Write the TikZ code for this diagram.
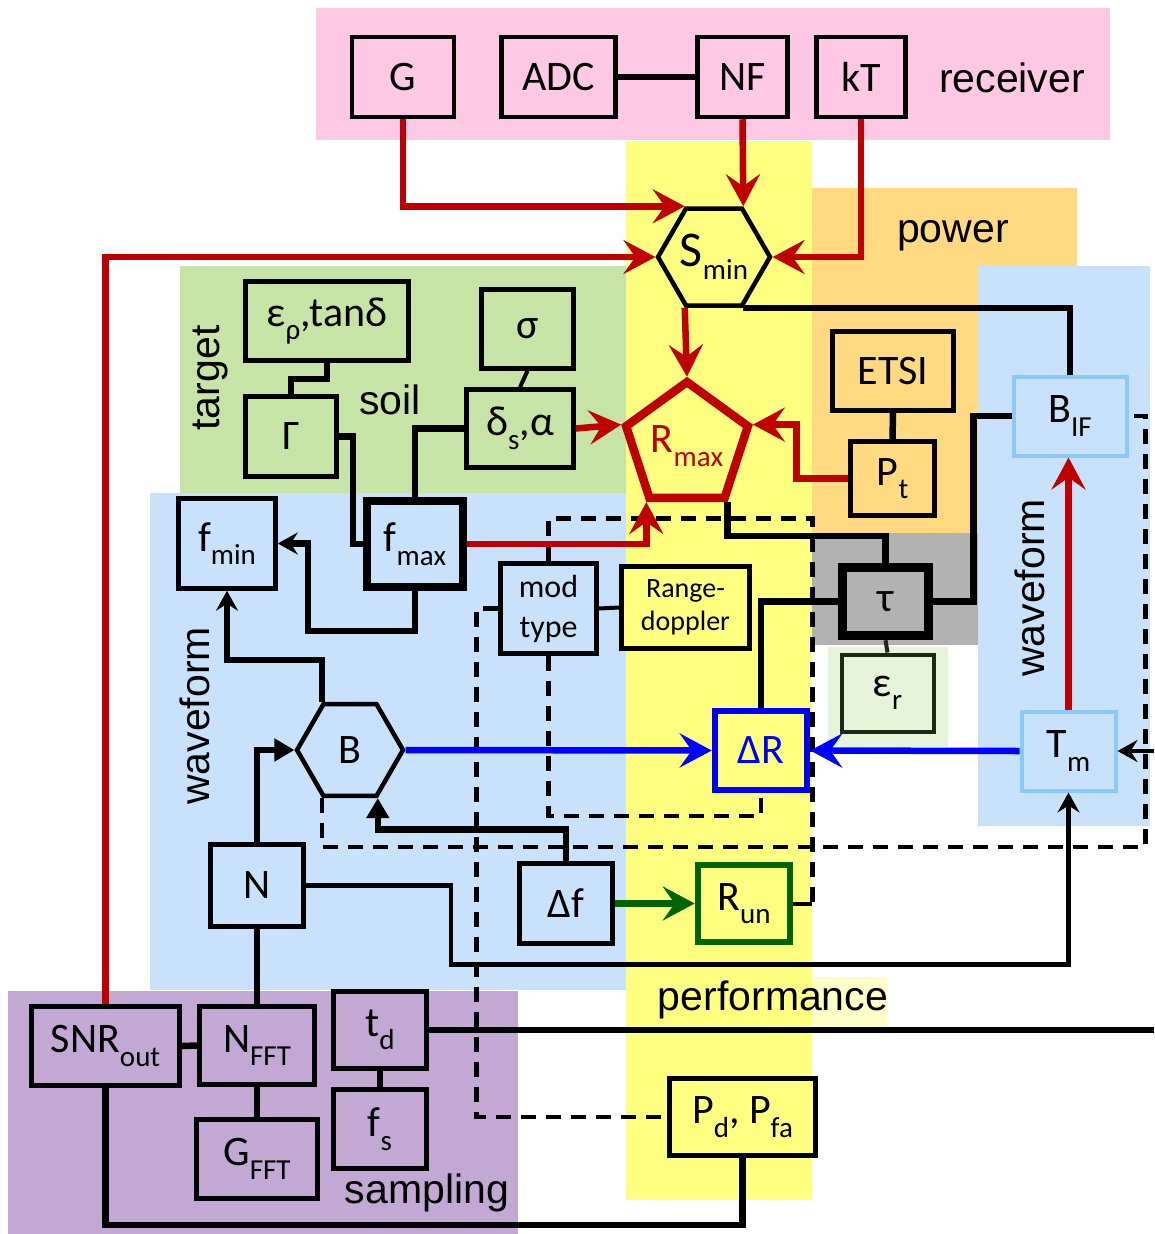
\documentclass[tikz,border=0pt]{standalone}
\usepackage{fontspec}
\setmainfont{Carlito}
\newfontfamily\labfam{Liberation Sans}
\usetikzlibrary{shapes.geometric,arrows.meta}
\definecolor{cpink}{RGB}{255,200,228}
\definecolor{cyel}{RGB}{255,255,128}
\definecolor{cora}{RGB}{255,218,128}
\definecolor{cgrn}{RGB}{198,228,166}
\definecolor{cblu}{RGB}{200,226,252}
\definecolor{cpur}{RGB}{196,168,212}
\definecolor{cgray}{RGB}{178,178,178}
\definecolor{cltg}{RGB}{230,244,218}
\definecolor{cpale}{RGB}{255,255,200}
\definecolor{cred}{RGB}{192,0,0}
\definecolor{cblue}{RGB}{0,0,255}
\definecolor{cdgrn}{RGB}{0,100,0}
\definecolor{cbord}{RGB}{140,200,250}
\definecolor{cdkg}{RGB}{30,40,20}
\newcommand{\boxfont}{\fontsize{42}{46}\selectfont}
\newcommand{\labtxt}{\labfam\fontsize{41}{45}\selectfont}
\newcommand{\lowtxt}[1]{\raisebox{-0.32em}{\fontsize{29}{32}\selectfont #1}}
\begin{document}
\begin{tikzpicture}[x=1pt,y=-1pt,
  box/.style={draw=black,line width=4.5pt,inner sep=0pt,align=center,font=\boxfont},
  hexa/.style={regular polygon,regular polygon sides=6,draw=black,line width=4.5pt,inner sep=0pt,font=\boxfont},
  conn/.style={draw=black,line width=6.5pt},
  thinconn/.style={draw=black,line width=4pt},
  redarr/.style={draw=cred,line width=6.5pt,-{Stealth[length=32pt,width=34pt,inset=12pt]}},
  bluearr/.style={draw=cblue,line width=6.5pt,-{Stealth[length=32pt,width=34pt,inset=12pt]}},
  grnarr/.style={draw=cdgrn,line width=6.5pt,-{Stealth[length=32pt,width=34pt,inset=12pt]}},
  triarr/.style={draw=black,line width=6.5pt,-{Triangle[length=20pt,width=22pt]}},
  blkarr/.style={draw=black,line width=6.5pt,-{Stealth[length=20pt,width=22pt,inset=7pt]}},
  thinarr/.style={draw=black,line width=4.2pt,-{Stealth[length=20pt,width=22pt,inset=7pt]}},
  dsh/.style={draw=black,line width=4.5pt,dash pattern=on 15pt off 10pt},
  lab/.style={font=\labtxt,inner sep=0pt}
]
\useasboundingbox (0,0) rectangle (1154,1234);
% regions
\fill[cpink] (316,8) rectangle (1110,140);
\fill[cyel] (626,141) rectangle (812,1200);
\fill[cora] (812,188) rectangle (1077,535);
\fill[cgrn] (180,266) rectangle (626,493);
\fill[cblu] (150,493) rectangle (626,990);
\fill[cblu] (978,266) rectangle (1150,826);
\fill[cgray] (812,533) rectangle (978,645);
\fill[cltg] (828,647) rectangle (948,747);
\fill[cpur] (8,991) rectangle (518,1234);
\fill[cpale] (812,977) rectangle (887,1030);
% region labels
\node[lab] (lrec) at (1012,78) {receiver};
\node[lab] (lpow) at (953,236) {power};
\node[lab,rotate=90] (ltar) at (210,378) {target};
\node[lab] (lsoil) at (390,400) {soil};
\node[lab,rotate=90] (lwav1) at (195,716) {waveform};
\node[lab,rotate=90] (lwav2) at (1030,588) {waveform};
\node[lab] (lperf) at (773,1000) {performance};
\node[lab] (lsamp) at (427,1193) {sampling};
% receiver
\node[box,fill=cpink,minimum width=102pt,minimum height=80pt] (g) at (403,77) {G};
\node[box,fill=cpink,minimum width=114pt,minimum height=80pt] (adc) at (558.5,77) {ADC};
\node[box,fill=cpink,minimum width=90pt,minimum height=80pt] (nf) at (742.5,77) {NF};
\node[box,fill=cpink,minimum width=89pt,minimum height=80pt] (kt) at (861,77) {kT};
% performance core
\node[hexa,fill=cyel,minimum size=112pt] (smin) at (714,257) {{\fontsize{50}{52}\selectfont S}\lowtxt{min}};
\node[regular polygon,regular polygon sides=5,draw=cred,fill=cyel,line width=8.5pt,minimum size=128pt,inner sep=0pt,text=cred,font=\boxfont] (rmax) at (687,446) {R\lowtxt{max}};
% power
\node[box,fill=cora,minimum width=121pt,minimum height=79pt] (etsi) at (893,371) {ETSI};
\node[box,fill=cora,minimum width=84pt,minimum height=74pt] (pt) at (892.5,478.5) {P\lowtxt{t}};
% target
\node[box,fill=cgrn,minimum width=163pt,minimum height=79pt] (eps) at (327,321) {ε\lowtxt{ρ},tanδ};
\node[box,fill=cgrn,minimum width=91pt,minimum height=80pt] (gam) at (291,436.5) {Γ};
\node[box,fill=cgrn,minimum width=92pt,minimum height=79pt] (sig) at (527.5,329) {σ};
\node[box,fill=cgrn,minimum width=107pt,minimum height=78pt] (del) at (520,428.5) {δ\lowtxt{s},α};
% waveform left
\node[box,fill=cblu,line width=7.5pt,minimum width=96pt,minimum height=86pt] (fmax) at (415,544) {f\lowtxt{max}};
\node[box,fill=cblu,minimum width=97pt,minimum height=90pt] (fmin) at (227,543.5) {f\lowtxt{min}};
\node[box,fill=cblu,minimum width=96pt,minimum height=90pt,font=\fontsize{32}{40}\selectfont] (mod) at (548.5,608.5) {mod\\type};
\node[box,fill=cyel,minimum width=128pt,minimum height=82pt,font=\fontsize{28}{33}\selectfont] (rd) at (685.5,607.5) {Range-\\doppler};
\node[hexa,fill=cblu,minimum size=106pt] (b) at (350,750) {B};
\node[box,fill=cblu,minimum width=93pt,minimum height=82pt] (n) at (257,885.5) {N};
\node[box,fill=cblu,minimum width=93pt,minimum height=80pt] (df) at (566,903.5) {Δf};
\node[box,fill=cyel,draw=cblue,text=cblue,line width=6.5pt,minimum width=92pt,minimum height=79pt] (dr) at (761,750.5) {ΔR};
\node[box,fill=cyel,draw=cdgrn,line width=6.5pt,minimum width=92pt,minimum height=77pt] (run) at (744,903.5) {R\lowtxt{un}};
% tau etc
\node[box,fill=cgray,line width=9.5pt,minimum width=86pt,minimum height=68pt] (tau) at (885.5,601.5) {τ};
\node[box,fill=cltg,draw=cdkg,line width=4pt,minimum width=92pt,minimum height=77pt] (epsr) at (887.5,693) {ε\lowtxt{r}};
% waveform right
\node[box,fill=cblu,draw=cbord,line width=4pt,minimum width=113pt,minimum height=79pt] (bif) at (1070,416) {B\lowtxt{IF}};
\node[box,fill=cblu,draw=cbord,line width=4pt,minimum width=94pt,minimum height=79pt] (tm) at (1068.5,751) {T\lowtxt{m}};
% detection
\node[box,fill=cyel,minimum width=146pt,minimum height=77pt] (pd) at (742.5,1117) {P\lowtxt{d}, P\lowtxt{fa}};
% sampling
\node[box,fill=cpur,minimum width=148pt,minimum height=79pt] (snr) at (105.5,1046) {SNR\lowtxt{out}};
\node[box,fill=cpur,minimum width=115pt,minimum height=78pt] (nfft) at (257,1045.5) {N\lowtxt{FFT}};
\node[box,fill=cpur,minimum width=121pt,minimum height=79pt] (gfft) at (257,1159) {G\lowtxt{FFT}};
\node[box,fill=cpur,minimum width=93pt,minimum height=77pt] (td) at (380,1030) {t\lowtxt{d}};
\node[box,fill=cpur,minimum width=93pt,minimum height=79pt] (fs) at (380,1129) {f\lowtxt{s}};
% free ends
\coordinate (rin) at (1154,751);
\coordinate (rout) at (1154,1030);
% dashed connectors
\draw[dsh] (mod.north) -- ++(0,-43) -| ([xshift=19pt]run.east);
\draw[dsh] (mod.south) -- ++(0,160) -| (dr.south);
\draw[dsh] (mod.west) -- ++(-22,0) |- (pd.west);
\draw[dsh] (b.240) -- ++(0,49) -| ([xshift=17pt]bif.east) -- (bif.east);
% solid connectors
\draw[conn] (adc.east) -- (nf.west);
\draw[redarr] (g.south) |- (smin.120);
\draw[redarr] (nf.south) -- (smin.60);
\draw[redarr] (kt.south) |- (smin.east);
\draw[redarr] (snr.north) |- (smin.west);
\draw[redarr] (smin.240) -- (rmax.north);
\draw[conn] (smin.300) -| (bif.north);
\draw[redarr] (del.east) -- (rmax.162);
\draw[redarr] (pt.west) -- ++(-52,0) |- (rmax.18);
\draw[redarr] (fmax.east) -| (rmax.234);
\draw[conn] (rmax.306) -- ++(0,34) -| (tau.north);
\draw[conn] (etsi.south) -- (pt.north);
\draw[conn] (eps.south) -- ++(0,16) -| (gam.north);
\draw[thinconn] (sig.south) -- (del.north);
\draw[conn] (gam.east) -- ++(14,0) |- (fmax.west);
\draw[conn] (del.west) -| (fmax.north);
\draw[blkarr] (fmax.south) -- ++(0,40) -| ([xshift=30pt]fmin.east) -- (fmin.east);
\draw[blkarr] (b.120) -- ++(0,-42) -| (fmin.south);
\draw[triarr] (n.north) |- (b.west);
\draw[triarr] (df.north) -- ++(0,-32) -| (b.300);
\draw[bluearr] (b.east) -- (dr.west);
\draw[conn] (dr.north) |- (tau.west);
\draw[conn] (tau.east) -- ++(40,0) |- (bif.west);
\draw[thinconn,draw=cdkg] (tau.south) -- (epsr.north);
\draw[redarr] (tm.north) -- (tm.north |- bif.south);
\draw[bluearr] (tm.west) -- (dr.east);
\draw[thinarr] (rin) -- (tm.east);
\draw[thinarr] (n.east) -- ++(145,0) -- ++(0,79) -| (tm.south);
\draw[grnarr] (df.east) -- (run.west);
\draw[thinconn] (run.east) -- ++(19,0);
\draw[thinconn] (mod.east) -- (rd.west);
\draw[conn] (snr.east) -- (nfft.west);
\draw[conn] (nfft.north) -- (n.south);
\draw[conn] (nfft.south) -- (gfft.north);
\draw[conn] (td.south) -- (fs.north);
\draw[conn] (td.east) -- (rout);
\draw[conn] (snr.south) -- ++(0,137) -| (pd.south);
\end{tikzpicture}
\end{document}
